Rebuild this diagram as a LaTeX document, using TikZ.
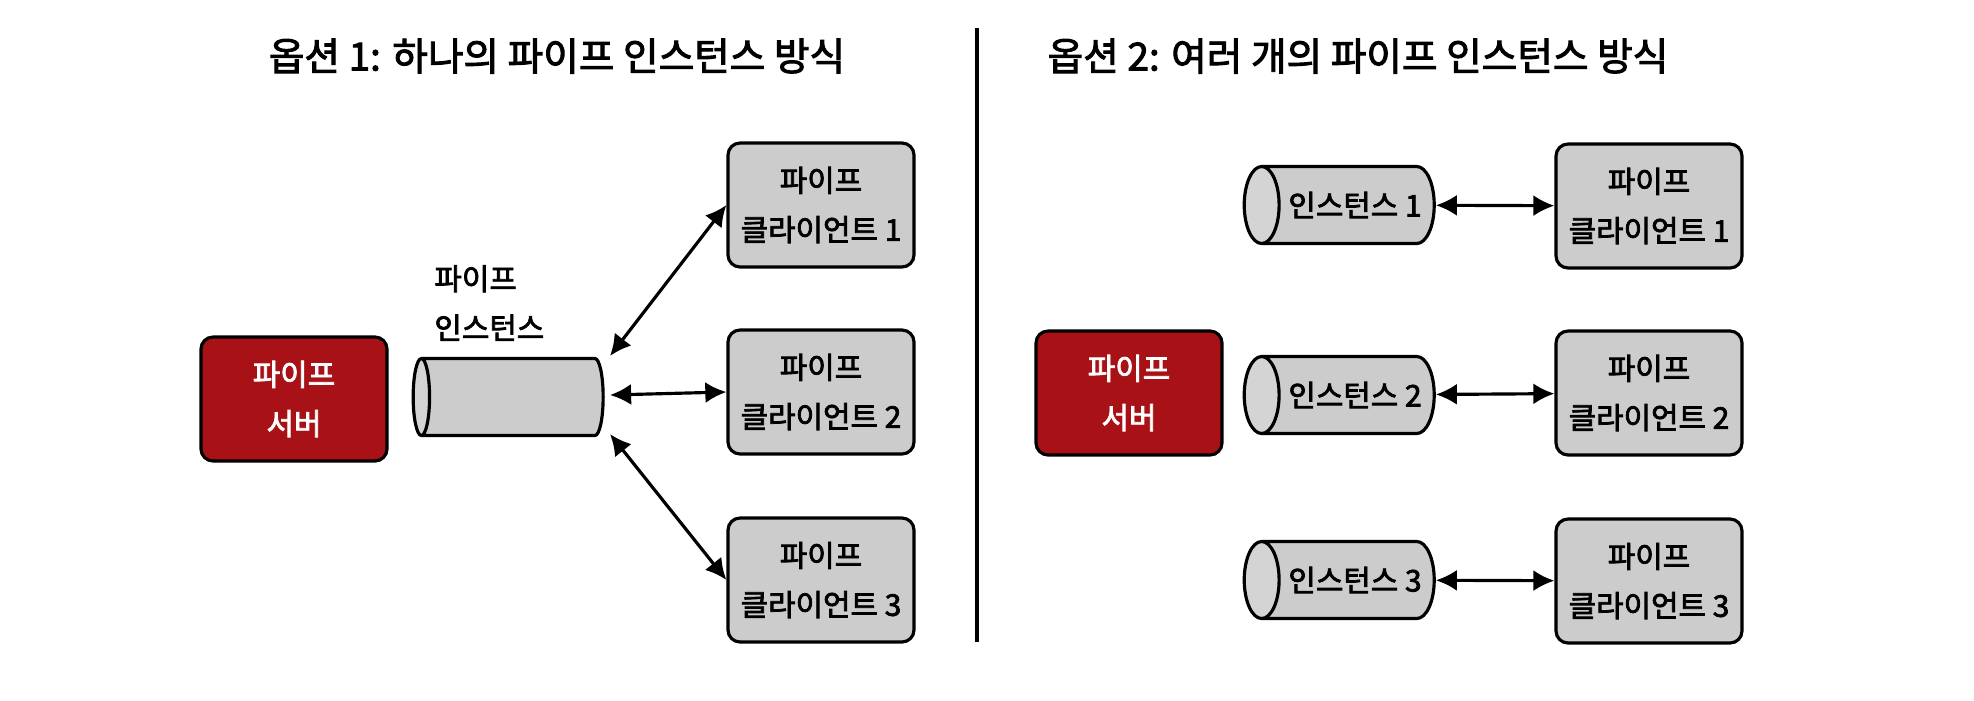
\documentclass[tikz,border=0pt]{standalone}
\usepackage{fontspec}
\setmainfont{Noto Sans CJK KR}[AutoFakeBold=2.5]
\usetikzlibrary{arrows.meta}
\usetikzlibrary{shapes.geometric}
\definecolor{pipegray}{RGB}{204,204,204}
\definecolor{pipered}{RGB}{168,18,22}

\begin{document}
\begin{tikzpicture}[
		clientnode/.style={
		% The shape:
		rectangle,
		rounded corners=1.2mm,
		% The size:
		minimum width=18.6mm,
		minimum height=12.4mm,
		% The border:
		line width=0.9pt,
		draw=black,
		% The filling:
		fill=pipegray,
		% Font
		font=\bfseries\fontsize{8.5}{14}\selectfont,
		align=center
		},
		servernode/.style={
		clientnode,
		% The filling:
		fill=pipered,
		% Font
		text=white
		},
		instnode/.style={
		% The shape:
		cylinder,
		shape border rotate=180,
		aspect=0.7,
		inner xsep=1pt,
		% The size (height runs along the axis):
		minimum height=19mm,
		minimum width=7.7mm,
		% The border:
		line width=0.9pt,
		draw=black,
		% The filling:
		cylinder uses custom fill,
		cylinder body fill=pipegray,
		cylinder end fill=pipegray!85,
		% Font
		font=\bfseries\fontsize{8.5}{14}\selectfont
		},
		titlenode/.style={
		font=\bfseries\fontsize{11}{13}\selectfont
		},
		pipelink/.style={
		{Latex[length=6pt,width=6pt]}-{Latex[length=6pt,width=6pt]},
		line width=0.9pt
		}
	]
	\useasboundingbox (0,0) rectangle (19.74,7.00);

	% option 1: one instance
	\node (T1)[titlenode] at (5.57,6.44) {옵션 1: 하나의 파이프 인스턴스 방식};
	\node (S1)[servernode] at (2.94,3.01) {파이프\\서버};
	\node (P0)[instnode] at (5.16,3.03) {};
	\node (PL)[anchor=west,align=left,font=\bfseries\fontsize{8.5}{14}\selectfont] at (4.22,3.97) {파이프\\인스턴스};
	\node (C1)[clientnode] at (8.21,4.95) {파이프\\클라이언트 1};
	\node (C2)[clientnode] at (8.21,3.08) {파이프\\클라이언트 2};
	\node (C3)[clientnode] at (8.21,1.20) {파이프\\클라이언트 3};
	\coordinate (P0a) at (6.10,3.44);
	\coordinate (P0b) at (6.10,3.05);
	\coordinate (P0c) at (6.10,2.66);

	\draw [pipelink] (P0a) -- (C1.west);
	\draw [pipelink] (P0b) -- (C2.west);
	\draw [pipelink] (P0c) -- (C3.west);

	% divider
	\coordinate (D1) at (9.77,6.72);
	\coordinate (D2) at (9.77,0.58);
	\draw [line width=0.9pt] (D1) -- (D2);

	% option 2: several instances
	\node (T2)[titlenode] at (13.58,6.44) {옵션 2: 여러 개의 파이프 인스턴스 방식};
	\node (S2)[servernode] at (11.29,3.07) {파이프\\서버};
	\node (P1)[instnode] at (13.55,4.95) {인스턴스 1};
	\node (P2)[instnode] at (13.55,3.05) {인스턴스 2};
	\node (P3)[instnode] at (13.55,1.20) {인스턴스 3};
	\node (K1)[clientnode] at (16.49,4.94) {파이프\\클라이언트 1};
	\node (K2)[clientnode] at (16.49,3.07) {파이프\\클라이언트 2};
	\node (K3)[clientnode] at (16.49,1.19) {파이프\\클라이언트 3};

	\draw [pipelink] (P1) -- (K1);
	\draw [pipelink] (P2) -- (K2);
	\draw [pipelink] (P3) -- (K3);
\end{tikzpicture}
\end{document}
